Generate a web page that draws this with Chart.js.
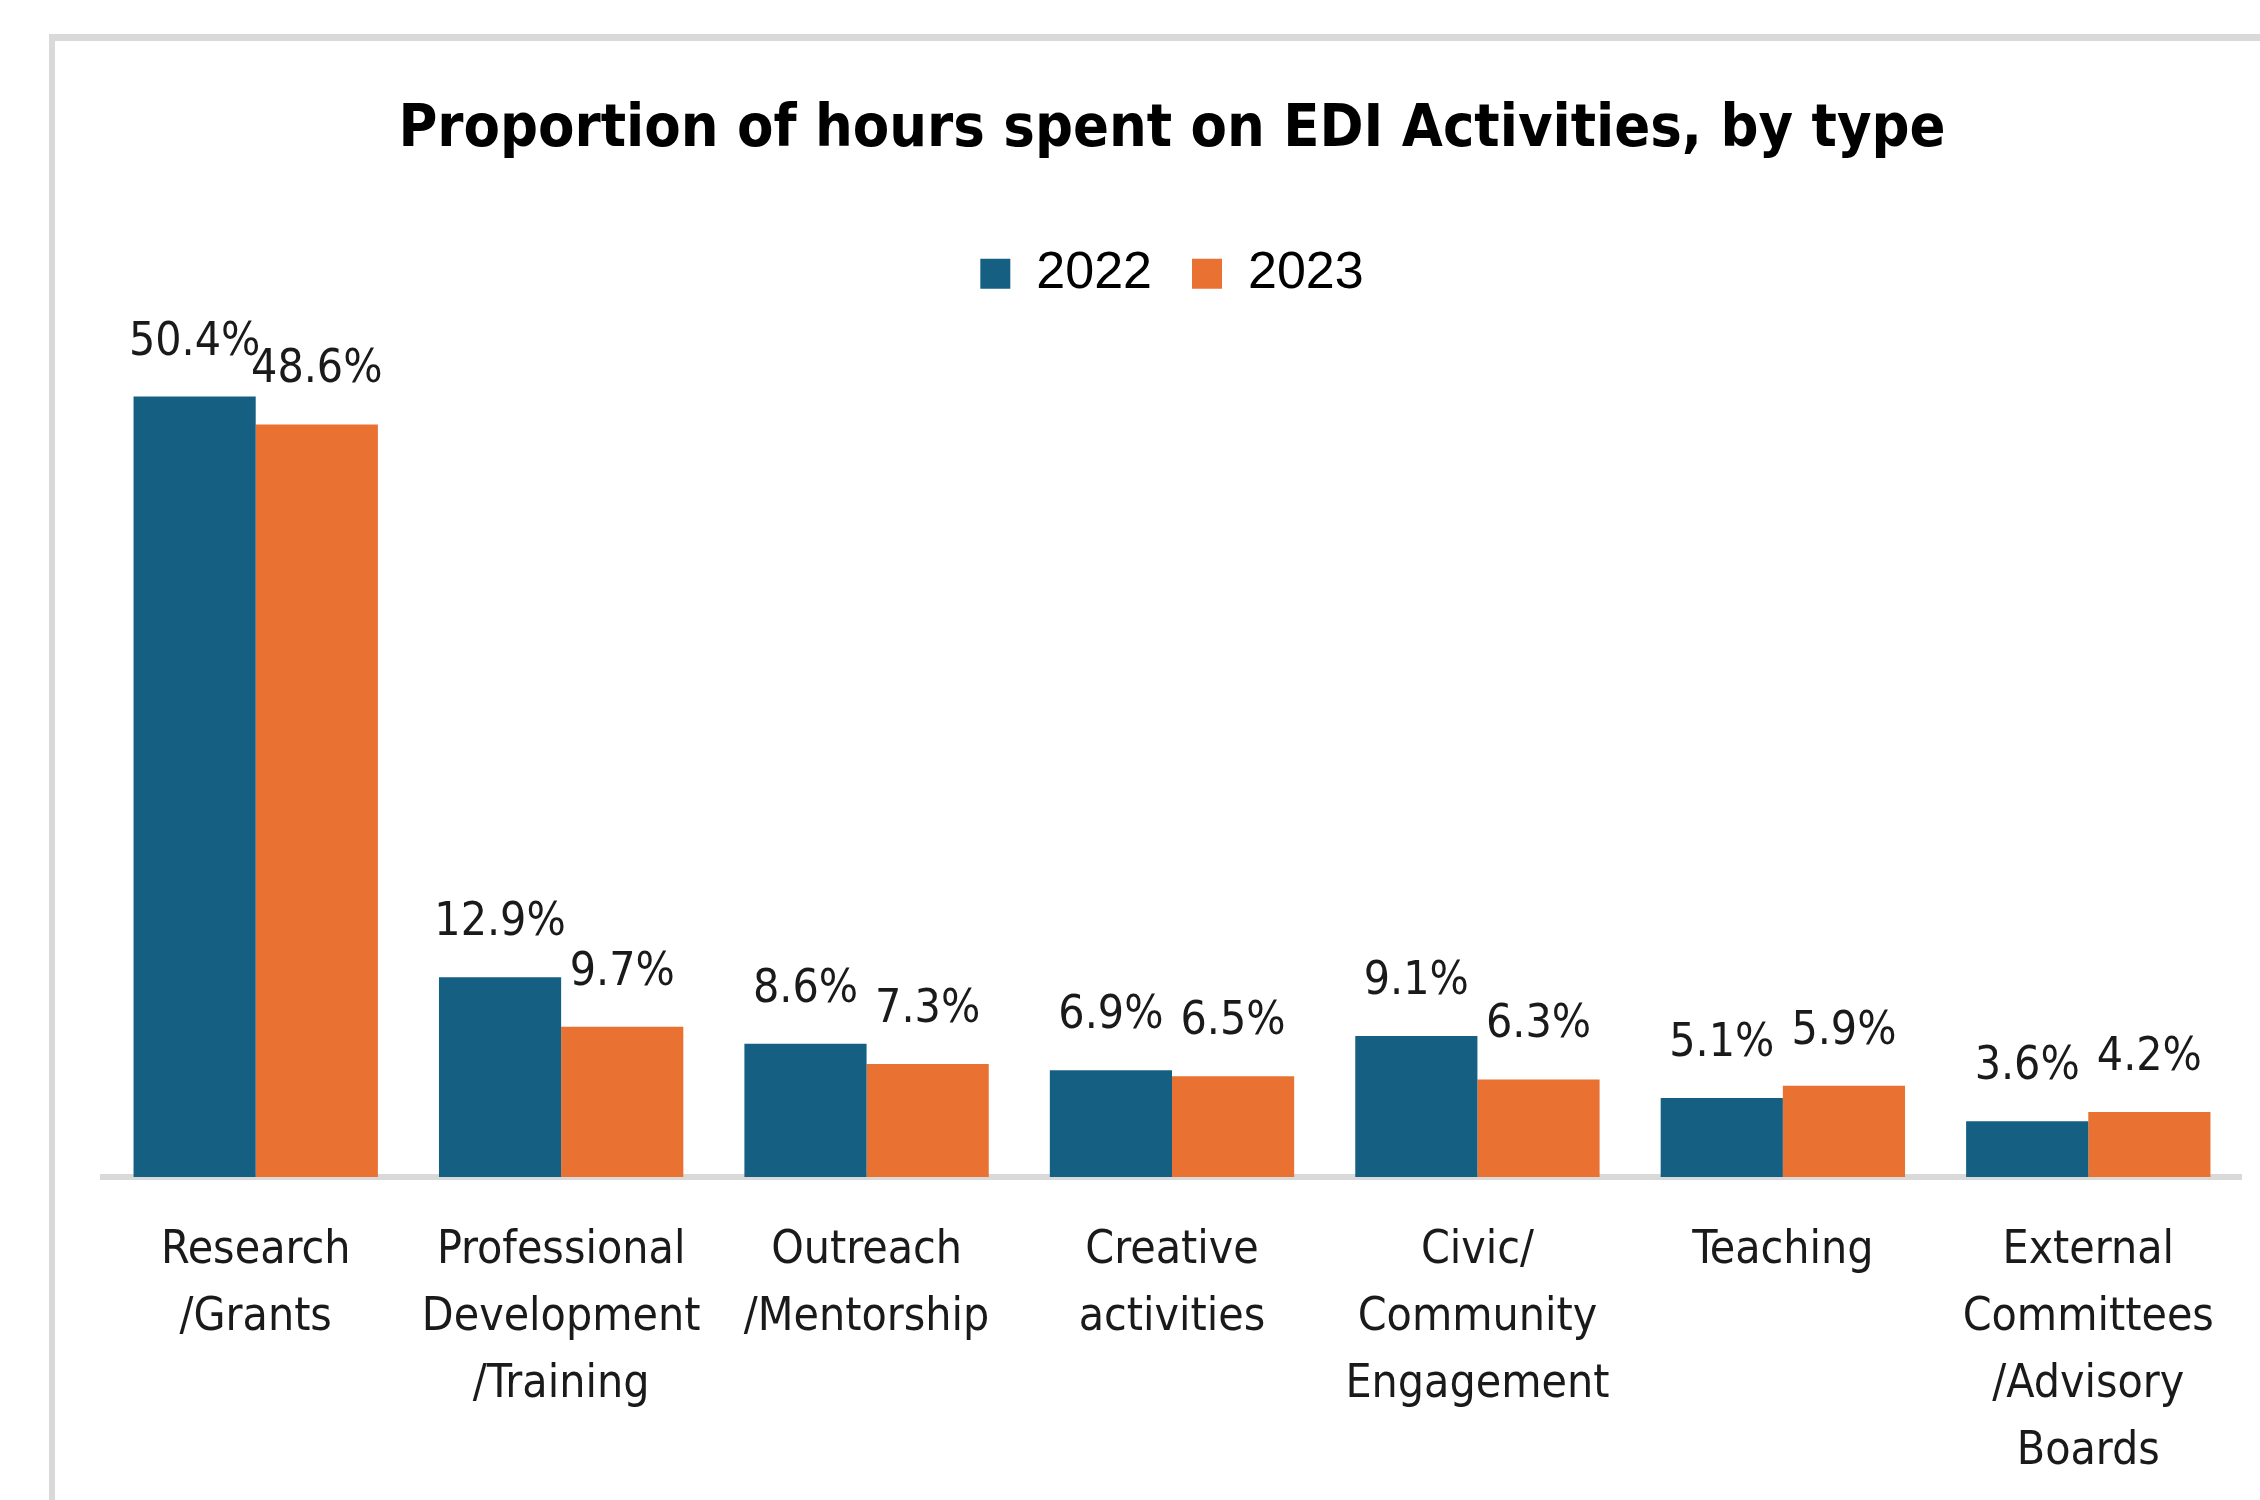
<!DOCTYPE html>
<html>
<head>
<meta charset="utf-8">
<title>Proportion of hours spent on EDI Activities, by type</title>
<script src="https://cdn.jsdelivr.net/npm/chart.js@4/dist/chart.umd.min.js"></script>
<style>
  html, body { margin: 0; padding: 0; background: #fff; overflow: hidden; }
  body { width: 2260px; height: 1500px; position: relative; }
  /* chart frame: top + left edge, the rest is cropped off */
  .frame {
    position: absolute; left: 49px; top: 34px;
    width: 2400px; height: 1600px;
    border-top: 7px solid #d9d9d9;
    border-left: 6px solid #d9d9d9;
  }
  #chart { position: absolute; left: 0; top: 0; }
</style>
</head>
<body>
<div class="frame"></div>
<canvas id="chart" width="2260" height="1545"></canvas>
<script>
/* ── Data ─────────────────────────────────────────────── */
const categories = [
  ["Research", "/Grants"],
  ["Professional", "Development", "/Training"],
  ["Outreach", "/Mentorship"],
  ["Creative", "activities"],
  ["Civic/", "Community", "Engagement"],
  ["Teaching"],
  ["External", "Committees", "/Advisory", "Boards"],
];
const seriesNames = ["2022", "2023"];
const values2022  = [50.4, 12.9, 8.6, 6.9, 9.1, 5.1, 3.6];
const values2023  = [48.6, 9.7, 7.3, 6.5, 6.3, 5.9, 4.2];

/* ── Theme ────────────────────────────────────────────── */
const NARROW = '"DejaVu Sans Condensed", "Liberation Sans", sans-serif';
const BLUE   = "#156082";
const ORANGE = "#E97132";
const TEXT   = "#1a1a1a";

Chart.defaults.font.family = NARROW;
Chart.defaults.color       = TEXT;

/* value labels above each bar */
const valueLabels = {
  id: "valueLabels",
  afterDatasetsDraw(chart) {
    const { ctx } = chart;
    ctx.save();
    ctx.font         = `46px ${NARROW}`;
    ctx.fillStyle    = TEXT;
    ctx.textAlign    = "center";
    ctx.textBaseline = "alphabetic";
    chart.data.datasets.forEach((ds, i) => {
      chart.getDatasetMeta(i).data.forEach((bar, j) => {
        ctx.fillText(ds.data[j].toFixed(1) + "%", bar.x, bar.y - 42);
      });
    });
    ctx.restore();
  },
};

new Chart(document.getElementById("chart"), {
  type: "bar",
  data: {
    labels: categories,
    datasets: [
      { label: seriesNames[0], data: values2022, backgroundColor: BLUE },
      { label: seriesNames[1], data: values2023, backgroundColor: ORANGE },
    ],
  },
  options: {
    responsive: false,
    animation:  false,
    categoryPercentage: 0.8,
    barPercentage:      1.0,
    layout: { padding: { top: 0, left: 103, right: 19, bottom: 18 } },
    plugins: {
      title: {
        display: true,
        text:    "Proportion of hours spent on EDI Activities, by type",
        color:   "#000",
        font:    { family: NARROW, size: 59, weight: "bold", lineHeight: 1.2 },
        padding: { top: 95, bottom: 42 },
      },
      legend: {
        display:  true,
        position: "top",
        labels: {
          color:     "#000",
          boxWidth:  30,
          boxHeight: 30,
          padding:   40,
          font:      { family: "'Liberation Sans', sans-serif", size: 52 },
        },
      },
      tooltip: { enabled: false },
    },
    scales: {
      x: {
        grid:   { display: false, drawTicks: false },
        border: { display: true, color: "#d9d9d9", width: 6 },
        ticks: {
          color:       TEXT,
          padding:     41,
          maxRotation: 0,
          autoSkip:    false,
          font:        { family: NARROW, size: 46, lineHeight: 1.4565 },
        },
      },
      y: {
        display: false,
        min: 0,
        max: 56,
      },
    },
  },
  plugins: [valueLabels],
});
</script>
</body>
</html>
